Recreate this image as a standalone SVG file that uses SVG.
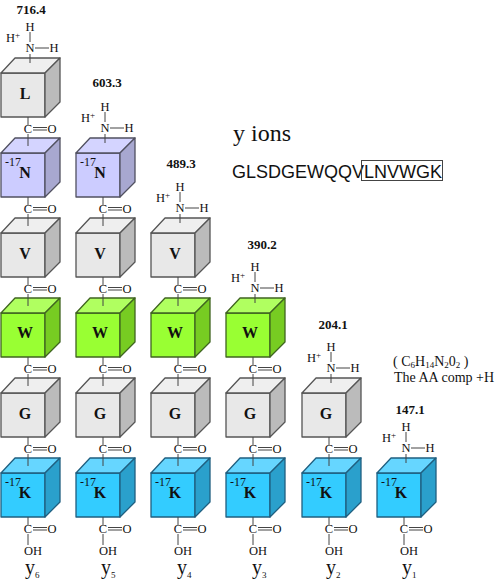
<svg xmlns="http://www.w3.org/2000/svg" width="495" height="583" viewBox="0 0 495 583">
<style>
text{font-family:"Liberation Serif","Times New Roman",serif;fill:#111}
.a{font-size:12.500px}
.am{text-anchor:middle}
.m{font-size:13px;font-weight:bold;text-anchor:middle}
.l{font-size:16px;font-weight:bold;text-anchor:middle}
.d{font-size:12px}
.y{font-size:20px}
.s{font-size:9px}
.n{font-size:14px}
.ln{stroke:#444;stroke-width:1;fill:none}
.f{fill:var(--f)}.t{fill:var(--t)}.r{fill:var(--r)}
.gr,.pu,.ge,.bl{stroke-width:1.3;stroke-linejoin:round}
.gr{stroke:#555;--f:#e8e8e8;--t:#efefef;--r:#bbbbbb}
.pu{stroke:#505060;--f:#ccccff;--t:#d4d4ff;--r:#a8a8d0}
.ge{stroke:#3f6420;--f:#99ff33;--t:#b0ff60;--r:#77cc22}
.bl{stroke:#1f5f80;--f:#33ccff;--t:#66d6ff;--r:#2aa0cc}
</style>
<defs>
<g id="cube"><path class="f" d="M1 15H45V59H1Z"/><path class="t" d="M1 15L15 0H60L45 15Z"/><path class="r" d="M45 15L60 0V44L45 59Z"/></g>
<path id="link" class="ln" d="M28 0V8M28 17V29M33 10.500H47M33 13H47"/>
<path id="tail" class="ln" d="M28 0V8M28 17V28M33 10.500H47M33 13H47"/>
<path id="head" class="ln" d="M30 32V42M35 48H49M30 54V63"/>
</defs>

<g id="y6-L" class="gr" transform="translate(0,58)"><use href="#cube"/></g>
<g id="y6-N" class="pu" transform="translate(0,138)"><use href="#cube"/></g>
<g id="y6-V" class="gr" transform="translate(0,218)"><use href="#cube"/></g>
<g id="y6-W" class="ge" transform="translate(0,298)"><use href="#cube"/></g>
<g id="y6-G" class="gr" transform="translate(0,378)"><use href="#cube"/></g>
<g id="y6-K" class="bl" transform="translate(0,458)"><use href="#cube"/></g>
<g id="y5-N" class="pu" transform="translate(75,138)"><use href="#cube"/></g>
<g id="y5-V" class="gr" transform="translate(75,218)"><use href="#cube"/></g>
<g id="y5-W" class="ge" transform="translate(75,298)"><use href="#cube"/></g>
<g id="y5-G" class="gr" transform="translate(75,378)"><use href="#cube"/></g>
<g id="y5-K" class="bl" transform="translate(75,458)"><use href="#cube"/></g>
<g id="y4-V" class="gr" transform="translate(150,218)"><use href="#cube"/></g>
<g id="y4-W" class="ge" transform="translate(150,298)"><use href="#cube"/></g>
<g id="y4-G" class="gr" transform="translate(150,378)"><use href="#cube"/></g>
<g id="y4-K" class="bl" transform="translate(150,458)"><use href="#cube"/></g>
<g id="y3-W" class="ge" transform="translate(225,298)"><use href="#cube"/></g>
<g id="y3-G" class="gr" transform="translate(225,378)"><use href="#cube"/></g>
<g id="y3-K" class="bl" transform="translate(225,458)"><use href="#cube"/></g>
<g id="y2-G" class="gr" transform="translate(301,378)"><use href="#cube"/></g>
<g id="y2-K" class="bl" transform="translate(301,458)"><use href="#cube"/></g>
<g id="y1-K" class="bl" transform="translate(376,458)"><use href="#cube"/></g>

<g id="connectors">
<use href="#head" y="0"/><use href="#head" x="75" y="80"/><use href="#head" x="150" y="160"/><use href="#head" x="225" y="240"/><use href="#head" x="301" y="320"/><use href="#head" x="376" y="400"/>
<use href="#link" y="117"/><use href="#link" y="197"/><use href="#link" y="277"/><use href="#link" y="357"/><use href="#link" y="437"/><use href="#tail" y="517"/>
<use href="#link" x="75" y="197"/><use href="#link" x="75" y="277"/><use href="#link" x="75" y="357"/><use href="#link" x="75" y="437"/><use href="#tail" x="75" y="517"/>
<use href="#link" x="150" y="277"/><use href="#link" x="150" y="357"/><use href="#link" x="150" y="437"/><use href="#tail" x="150" y="517"/>
<use href="#link" x="225" y="357"/><use href="#link" x="225" y="437"/><use href="#tail" x="225" y="517"/>
<use href="#link" x="301" y="437"/><use href="#tail" x="301" y="517"/>
<use href="#tail" x="376" y="517"/>
</g>

<g id="letters">
<text class="l" x="25" y="99">L</text><text class="l" x="25" y="178">N</text><text class="l" x="25" y="259">V</text><text class="l" x="25" y="338">W</text><text class="l" x="25" y="419">G</text><text class="l" x="25" y="498">K</text>
<text class="l" x="100" y="178">N</text><text class="l" x="100" y="259">V</text><text class="l" x="100" y="338">W</text><text class="l" x="100" y="419">G</text><text class="l" x="100" y="498">K</text>
<text class="l" x="175" y="259">V</text><text class="l" x="175" y="338">W</text><text class="l" x="175" y="419">G</text><text class="l" x="175" y="498">K</text>
<text class="l" x="250" y="338">W</text><text class="l" x="250" y="419">G</text><text class="l" x="250" y="498">K</text>
<text class="l" x="326" y="419">G</text><text class="l" x="326" y="498">K</text>
<text class="l" x="401" y="498">K</text>
<text class="d" x="5" y="166">-17</text><text class="d" x="80" y="166">-17</text>
<text class="d" x="5" y="486">-17</text><text class="d" x="80" y="486">-17</text><text class="d" x="155" y="486">-17</text><text class="d" x="230" y="486">-17</text><text class="d" x="306" y="486">-17</text><text class="d" x="381" y="486">-17</text>
</g>

<g id="carbonyls">
<text class="a am" x="28" y="133">C</text><text class="a am" x="52" y="133">O</text>
<text class="a am" x="28" y="213">C</text><text class="a am" x="52" y="213">O</text>
<text class="a am" x="28" y="293">C</text><text class="a am" x="52" y="293">O</text>
<text class="a am" x="28" y="373">C</text><text class="a am" x="52" y="373">O</text>
<text class="a am" x="28" y="453">C</text><text class="a am" x="52" y="453">O</text>
<text class="a am" x="28" y="533">C</text><text class="a am" x="52" y="533">O</text>
<text class="a am" x="103" y="213">C</text><text class="a am" x="127" y="213">O</text>
<text class="a am" x="103" y="293">C</text><text class="a am" x="127" y="293">O</text>
<text class="a am" x="103" y="373">C</text><text class="a am" x="127" y="373">O</text>
<text class="a am" x="103" y="453">C</text><text class="a am" x="127" y="453">O</text>
<text class="a am" x="103" y="533">C</text><text class="a am" x="127" y="533">O</text>
<text class="a am" x="178" y="293">C</text><text class="a am" x="202" y="293">O</text>
<text class="a am" x="178" y="373">C</text><text class="a am" x="202" y="373">O</text>
<text class="a am" x="178" y="453">C</text><text class="a am" x="202" y="453">O</text>
<text class="a am" x="178" y="533">C</text><text class="a am" x="202" y="533">O</text>
<text class="a am" x="253" y="373">C</text><text class="a am" x="277" y="373">O</text>
<text class="a am" x="253" y="453">C</text><text class="a am" x="277" y="453">O</text>
<text class="a am" x="253" y="533">C</text><text class="a am" x="277" y="533">O</text>
<text class="a am" x="329" y="453">C</text><text class="a am" x="353" y="453">O</text>
<text class="a am" x="329" y="533">C</text><text class="a am" x="353" y="533">O</text>
<text class="a am" x="404" y="533">C</text><text class="a am" x="428" y="533">O</text>
<text class="a am" x="33" y="555">OH</text><text class="a am" x="108" y="555">OH</text><text class="a am" x="183" y="555">OH</text><text class="a am" x="258" y="555">OH</text><text class="a am" x="334" y="555">OH</text><text class="a am" x="409" y="555">OH</text>
</g>

<g id="amines">
<text class="a am" x="30" y="31">H</text><text class="a am" x="30" y="52">N</text><text class="a am" x="54" y="52">H</text><text class="a" x="6" y="42">H<tspan class="s" dy="-4">+</tspan></text>
<text class="a am" x="105" y="111">H</text><text class="a am" x="105" y="132">N</text><text class="a am" x="129" y="132">H</text><text class="a" x="81" y="122">H<tspan class="s" dy="-4">+</tspan></text>
<text class="a am" x="180" y="191">H</text><text class="a am" x="180" y="212">N</text><text class="a am" x="204" y="212">H</text><text class="a" x="156" y="202">H<tspan class="s" dy="-4">+</tspan></text>
<text class="a am" x="255" y="271">H</text><text class="a am" x="255" y="292">N</text><text class="a am" x="279" y="292">H</text><text class="a" x="231" y="282">H<tspan class="s" dy="-4">+</tspan></text>
<text class="a am" x="331" y="351">H</text><text class="a am" x="331" y="372">N</text><text class="a am" x="355" y="372">H</text><text class="a" x="307" y="362">H<tspan class="s" dy="-4">+</tspan></text>
<text class="a am" x="406" y="431">H</text><text class="a am" x="406" y="452">N</text><text class="a am" x="430" y="452">H</text><text class="a" x="382" y="442">H<tspan class="s" dy="-4">+</tspan></text>
</g>

<g id="masses">
<text class="m" x="31" y="14">716.4</text><text class="m" x="107" y="87">603.3</text><text class="m" x="181" y="168">489.3</text><text class="m" x="262" y="249">390.2</text><text class="m" x="333" y="329">204.1</text><text class="m" x="410" y="414">147.1</text>
</g>

<g id="ion-labels">
<text class="y" x="25" y="574">y<tspan class="s" dy="4">6</tspan></text>
<text class="y" x="101" y="574">y<tspan class="s" dy="4">5</tspan></text>
<text class="y" x="177" y="574">y<tspan class="s" dy="4">4</tspan></text>
<text class="y" x="252" y="574">y<tspan class="s" dy="4">3</tspan></text>
<text class="y" x="326" y="574">y<tspan class="s" dy="4">2</tspan></text>
<text class="y" x="402" y="574">y<tspan class="s" dy="4">1</tspan></text>
</g>

<g id="header">
<text x="233" y="141" font-size="24">y ions</text>
<text x="232" y="178" font-size="18" style="font-family:'Liberation Sans',Arial,sans-serif">GLSDGEWQQVLNVWGK</text>
<rect x="361.500" y="160.500" width="81" height="20" fill="none" stroke="#444" stroke-width="1"/>
</g>

<g id="note">
<text class="n" x="393" y="366">( C<tspan class="s" dy="2">6</tspan><tspan dy="-2">H</tspan><tspan class="s" dy="2">14</tspan><tspan dy="-2">N</tspan><tspan class="s" dy="2">2</tspan><tspan dy="-2">0</tspan><tspan class="s" dy="2">2</tspan><tspan dy="-2"> )</tspan></text>
<text class="n" x="394" y="382">The AA comp +H</text>
</g>
</svg>
